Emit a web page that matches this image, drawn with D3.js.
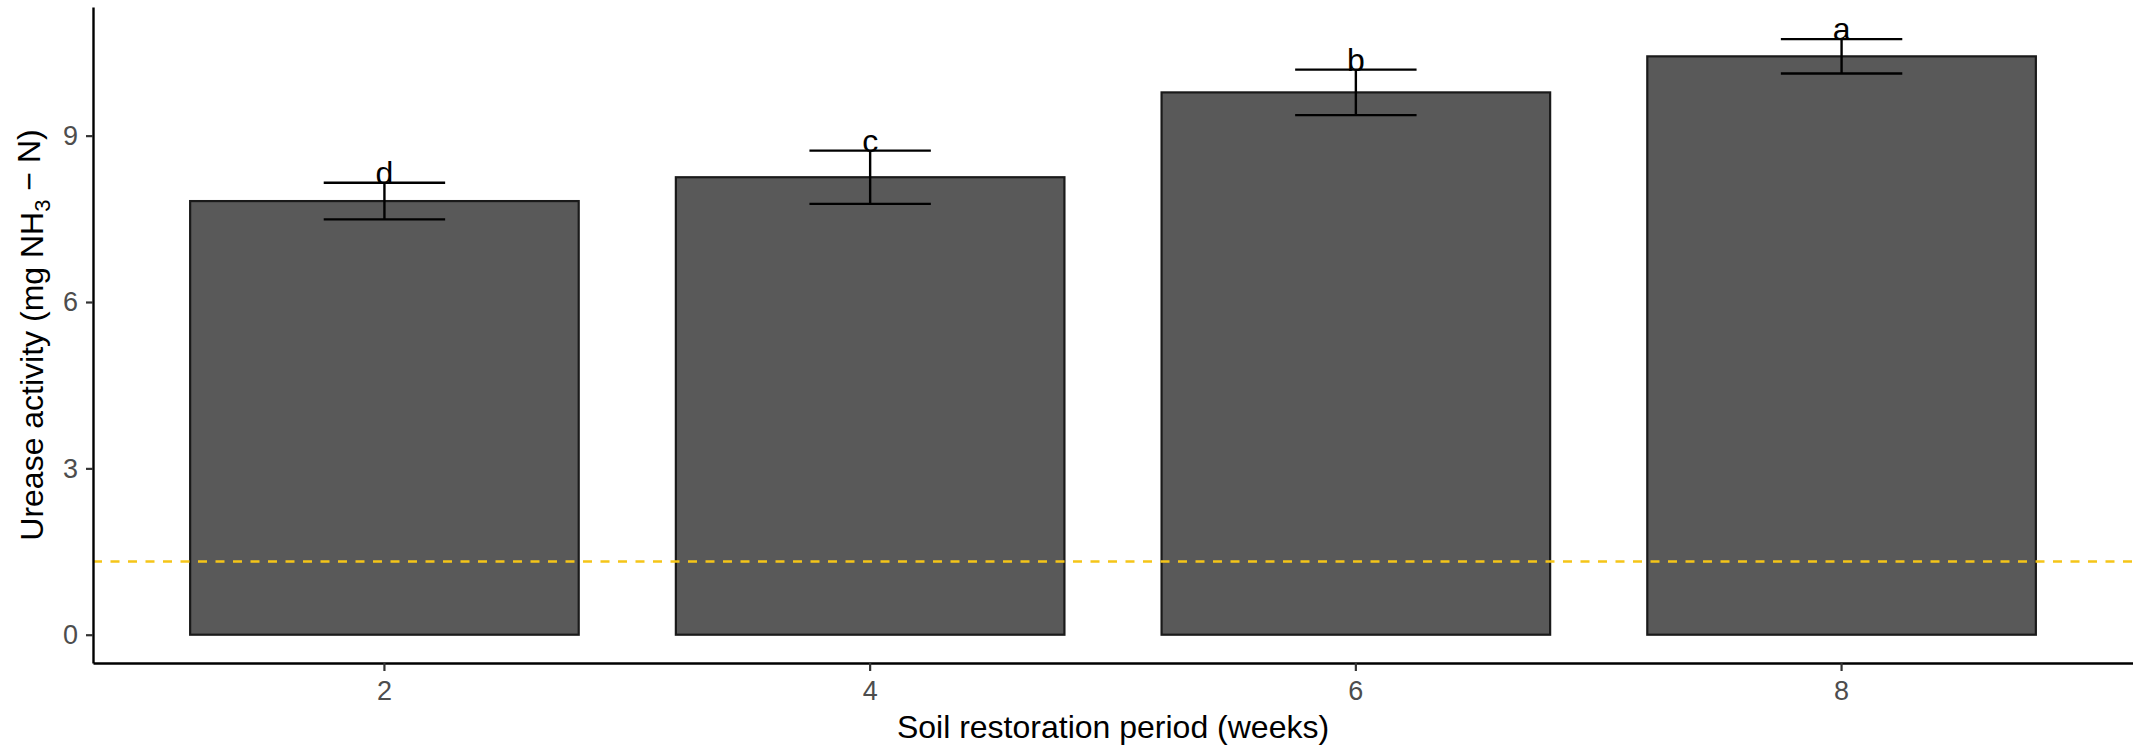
<!DOCTYPE html>
<html>
<head>
<meta charset="utf-8">
<script src="https://cdn.jsdelivr.net/npm/d3@7"></script>
<style>
  body { margin: 0; background: #fff; }
  text { font-family: "Liberation Sans", Arial, sans-serif; }
</style>
</head>
<body>
<div id="chart"></div>
<script>
// data
var weeks = ["2", "4", "6", "8"];
var urease = [7.82, 8.25, 9.78, 10.43];
var ureaseSd = [0.33, 0.48, 0.41, 0.31];
var letters = ["d", "c", "b", "a"];
var refLine = 1.32;
var yTicks = [0, 3, 6, 9];

var width = 2133, height = 746;
var margin = { top: 7, right: 0, bottom: 83, left: 93 };

var svg = d3.select("#chart").append("svg")
    .attr("width", width)
    .attr("height", height);

var x = d3.scaleBand()
    .domain(weeks)
    .range([margin.left, width - margin.right])
    .paddingInner(0.2)
    .paddingOuter(0.2);

var y = d3.scaleLinear()
    .domain([-0.51, 11.32])
    .range([height - margin.bottom, margin.top]);

var rows = weeks.map(function(w, i) {
  return { week: w, mean: urease[i], sd: ureaseSd[i], letter: letters[i] };
});

// bars
svg.append("g").selectAll("rect")
    .data(rows)
    .enter().append("rect")
    .attr("x", function(d) { return x(d.week); })
    .attr("y", function(d) { return y(d.mean); })
    .attr("width", x.bandwidth())
    .attr("height", function(d) { return y(0) - y(d.mean); })
    .attr("fill", "#595959")
    .attr("stroke", "#1a1a1a")
    .attr("stroke-width", 2.2);

// error bars
var errW = x.step() * 0.25;
var err = svg.append("g").attr("stroke", "#000").attr("stroke-width", 2.4);
rows.forEach(function(d) {
  var cx = x(d.week) + x.bandwidth() / 2;
  err.append("line")
      .attr("x1", cx).attr("x2", cx)
      .attr("y1", y(d.mean + d.sd)).attr("y2", y(d.mean - d.sd));
  err.append("line")
      .attr("x1", cx - errW / 2).attr("x2", cx + errW / 2)
      .attr("y1", y(d.mean + d.sd)).attr("y2", y(d.mean + d.sd));
  err.append("line")
      .attr("x1", cx - errW / 2).attr("x2", cx + errW / 2)
      .attr("y1", y(d.mean - d.sd)).attr("y2", y(d.mean - d.sd));
});

// significance letters
svg.append("g").selectAll("text")
    .data(rows)
    .enter().append("text")
    .attr("x", function(d) { return x(d.week) + x.bandwidth() / 2; })
    .attr("y", function(d) { return y(d.mean + d.sd) + 1; })
    .attr("text-anchor", "middle")
    .attr("font-size", 32)
    .attr("fill", "#000")
    .text(function(d) { return d.letter; });

// reference line
svg.append("line")
    .attr("x1", margin.left).attr("x2", width - margin.right)
    .attr("y1", y(refLine)).attr("y2", y(refLine))
    .attr("stroke", "#F5C518")
    .attr("stroke-width", 2.6)
    .attr("stroke-dasharray", "9,8.5");

// axes
var xAxis = svg.append("g")
    .attr("transform", "translate(0," + (height - margin.bottom) + ")")
    .call(d3.axisBottom(x).tickSizeInner(8).tickSizeOuter(0).tickPadding(10));

var yAxis = svg.append("g")
    .attr("transform", "translate(" + margin.left + ",0)")
    .call(d3.axisLeft(y).tickValues(yTicks).tickSizeInner(7).tickSizeOuter(0).tickPadding(8));

[xAxis, yAxis].forEach(function(a) {
  a.select(".domain").attr("stroke", "#000").attr("stroke-width", 2.4);
  a.selectAll(".tick line").attr("stroke", "#333").attr("stroke-width", 2.2);
  a.selectAll(".tick text")
      .attr("fill", "#4d4d4d")
      .attr("font-size", 27)
      .attr("font-family", "Liberation Sans, Arial, sans-serif");
});

// axis titles
svg.append("text")
    .attr("x", (margin.left + width - margin.right) / 2)
    .attr("y", 738)
    .attr("text-anchor", "middle")
    .attr("font-size", 32)
    .attr("fill", "#000")
    .text("Soil restoration period (weeks)");

var yTitle = svg.append("text")
    .attr("transform", "translate(43," + ((margin.top + height - margin.bottom) / 2) + ") rotate(-90)")
    .attr("text-anchor", "middle")
    .attr("font-size", 32)
    .attr("fill", "#000");
yTitle.append("tspan").text("Urease activity (mg NH");
yTitle.append("tspan").attr("font-size", 22).attr("dy", "0.3em").text("3");
yTitle.append("tspan").attr("dy", "-0.3em").text(" \u2212 N)");
</script>
</body>
</html>
